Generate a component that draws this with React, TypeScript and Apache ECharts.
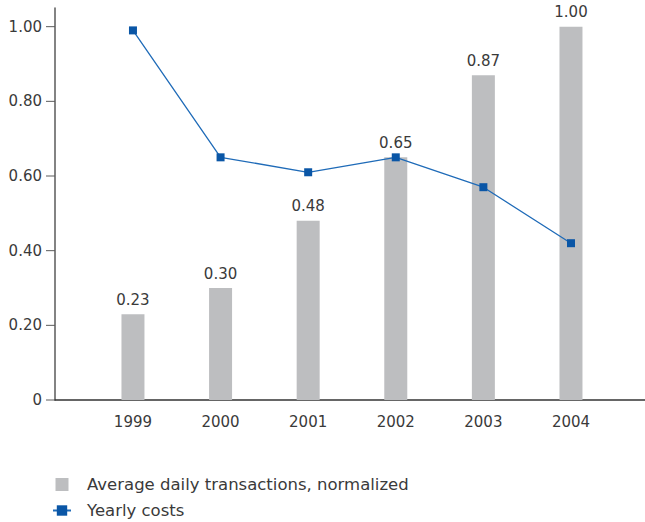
import React, { useEffect, useRef } from "react";
import * as echarts from "echarts";

const years = ["1999", "2000", "2001", "2002", "2003", "2004"];
const transactions = [0.23, 0.3, 0.48, 0.65, 0.87, 1.0];
const costs = [0.99, 0.65, 0.61, 0.65, 0.57, 0.42];
const yTicks = [0, 0.2, 0.4, 0.6, 0.8, 1.0];

const FONT = "DejaVu Sans";
const TEXT = "#3a3a3a";
const AXIS = "#5a5a5a";

export default function App() {
  const ref = useRef<HTMLDivElement>(null);
  useEffect(() => {
    const chart = echarts.init(ref.current!, null, { renderer: "svg" });
    chart.setOption({
      animation: false,
      textStyle: { fontFamily: FONT },
      grid: { left: 55, right: 0, top: 8, bottom: 122, containLabel: false },
      legend: {
        orient: "vertical",
        left: 52,
        top: 476,
        padding: 0,
        itemWidth: 18,
        itemHeight: 13,
        itemGap: 9,
        symbolKeepAspect: true,
        textStyle: { fontFamily: FONT, fontSize: 16.5, color: TEXT, padding: [0, 0, 0, 11] },
        data: [
          { name: "Average daily transactions, normalized", icon: "path://M0,0H10V10H0Z" },
          { name: "Yearly costs" },
        ],
      },
      xAxis: {
        type: "value",
        min: -0.89,
        max: 5.845,
        splitLine: { show: false },
        axisLine: { show: true, onZero: false, lineStyle: { color: "#333333", width: 1.5 } },
        axisTick: { show: false },
        axisLabel: {
          customValues: years.map((_, i) => i),
          formatter: (v: number) => years[Math.round(v)] ?? "",
          color: TEXT,
          fontSize: 15,
          fontFamily: FONT,
          margin: 14,
        },
      },
      yAxis: {
        type: "value",
        position: "left",
        min: 0,
        max: 1.05,
        splitLine: { show: false },
        axisLine: { show: true, onZero: false, lineStyle: { color: AXIS, width: 1.5 } },
        axisTick: { show: false },
        axisLabel: {
          customValues: yTicks,
          formatter: (v: number) =>
            "{v|" + (v === 0 ? "0" : v.toFixed(2)) + "}{s|}{t|}",
          margin: 0,
          rich: {
            v: { color: TEXT, fontSize: 15, fontFamily: FONT },
            s: { width: 4, height: 1 },
            t: { width: 9, height: 1, backgroundColor: AXIS, verticalAlign: "middle" },
          },
        },
      },
      series: [
        {
          name: "Average daily transactions, normalized",
          type: "bar",
          barWidth: 23,
          data: transactions.map((v, i) => [i, v]),
          itemStyle: { color: "#bdbec0" },
          label: {
            show: true,
            position: "top",
            distance: 7,
            formatter: (p: any) => p.value[1].toFixed(2),
            color: TEXT,
            fontSize: 15,
            fontFamily: FONT,
          },
          z: 1,
        },
        {
          name: "Yearly costs",
          type: "line",
          data: costs.map((v, i) => [i, v]),
          symbol: "rect",
          symbolSize: 8,
          lineStyle: { color: "#1f6bb8", width: 1.3 },
          itemStyle: { color: "#0a56a6" },
          z: 3,
        },
      ],
    });
    return () => chart.dispose();
  }, []);
  return <div ref={ref} style={{ width: 645, height: 522, position: "absolute", left: 0, top: 0 }} />;
}
